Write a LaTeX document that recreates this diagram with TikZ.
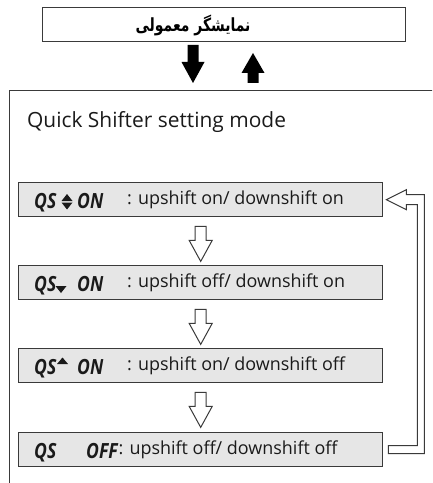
\documentclass[tikz,border=0pt]{standalone}
\usepackage{fontspec}
\setmainfont{Open Sans}
\newfontfamily\arabicfont[Script=Arabic]{DejaVu Sans}
\TeXXeTstate=1
\usetikzlibrary{calc}
\definecolor{linec}{HTML}{3A3A3A}
\definecolor{rowgray}{HTML}{E6E6E6}
\definecolor{txt}{HTML}{1A1A1A}
\newcommand{\condensed}[1]{\scalebox{0.84}[1]{#1}}
\begin{document}
\begin{tikzpicture}[x=1bp,y=-1bp,
  box/.style={draw=linec, line width=1.2bp, inner sep=0},
  rowbox/.style={draw=linec, fill=rowgray, line width=1.4bp, inner sep=0, anchor=north west, minimum width=364bp, minimum height=34bp},
  lbl/.style={anchor=base west, inner sep=0, font=\fontsize{18}{20}\selectfont, text=txt},
  qs/.style={anchor=base west, inner sep=0, font=\fontsize{21}{22}\selectfont\bfseries\itshape, text=txt},
  hollow/.style={draw=linec, fill=white, line width=1bp, line join=miter},
  solidarrow/.style={fill=black},
  tri/.style={fill=txt},
  hollowdown/.pic={\draw[hollow] (-5.5,9) -- (5.5,9) -- (5.5,23) -- (11.5,23) -- (0,44) -- (-11.5,23) -- (-5.5,23) -- cycle;}]
\useasboundingbox (0,0) rectangle (432,483);
\clip (0,0) rectangle (432,483);
% top box
\node[box, anchor=north west, minimum width=363bp, minimum height=34bp] (top) at (42,7) {};
\node[inner sep=0, text=black, font=\arabicfont\bfseries\fontsize{14}{16}\selectfont] (fa) at (193,25) {\scalebox{1}[1.3]{\beginR نمایشگر معمولی\endR}};
% main frame
\node[box, anchor=north west, minimum width=440bp, minimum height=420bp] (mode) at (9,90) {};
\node[anchor=base west, inner sep=0, text=txt, font=\fontsize{21}{24}\selectfont] (title) at (27,128) {Quick Shifter setting mode};
% solid arrows
\fill[solidarrow] (187.5,45) -- (198.5,45) -- (198.5,62) -- (204.5,62) -- (193,83) -- (181.5,62) -- (187.5,62) -- cycle;
\fill[solidarrow] (247.5,83) -- (258.5,83) -- (258.5,73) -- (264.5,73) -- (253,53) -- (241.5,73) -- (247.5,73) -- cycle;
% rows
\node[rowbox] (r1) at (18,182) {};
\node[rowbox] (r2) at (18,265) {};
\node[rowbox] (r3) at (18,348) {};
\node[rowbox] (r4) at (18,432) {};
% row 1
\node[qs] (q1) at (34,208) {\condensed{QS}};
\fill[tri] (61.5,201) -- (72.5,201) -- (67,194) -- cycle;
\fill[tri] (61.5,202.5) -- (72.5,202.5) -- (67,209.5) -- cycle;
\node[qs] (o1) at (77,208) {\condensed{ON}};
\node[lbl] (t1) at (127,204) {: upshift on/ downshift on};
% row 2
\node[qs] (q2) at (34,291) {\condensed{QS}};
\fill[tri] (55.5,286) -- (66.5,286) -- (61,293) -- cycle;
\node[qs] (o2) at (77,291) {\condensed{ON}};
\node[lbl] (t2) at (127,287) {: upshift off/ downshift on};
% row 3
\node[qs] (q3) at (34,374) {\condensed{QS}};
\fill[tri] (57,364) -- (68,364) -- (62.5,357.5) -- cycle;
\node[qs] (o3) at (77,374) {\condensed{ON}};
\node[lbl] (t3) at (127,370) {: upshift on/ downshift off};
% row 4
\node[qs] (q4) at (34,458) {\condensed{QS}};
\node[qs] (o4) at (86,458) {\condensed{OFF}};
\node[lbl] (t4) at ($(o4.base east)+(0.5,-4)$) {: upshift off/ downshift off};
% hollow arrows between rows
\pic at (r1.south) {hollowdown};
\pic at (r2.south) {hollowdown};
\pic at (r3.south) {hollowdown};
% feedback arrow
\draw[hollow] ([shift={(5,-4)}]r4.east) -- ([shift={(34,-4)}]r4.east) -- ([shift={(34,5)}]r1.east) -- ([shift={(23,5)}]r1.east) -- ([shift={(23,10)}]r1.east) -- ([shift={(3,0)}]r1.east) -- ([shift={(23,-10)}]r1.east) -- ([shift={(23,-5)}]r1.east) -- ([shift={(41,-5)}]r1.east) -- ([shift={(41,4)}]r4.east) -- ([shift={(5,4)}]r4.east) -- cycle;
\end{tikzpicture}
\end{document}
